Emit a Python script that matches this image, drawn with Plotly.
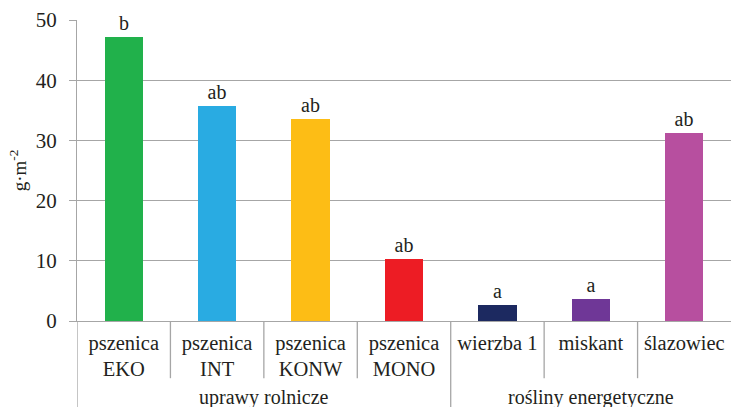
import plotly.graph_objects as go

categories = ["pszenica<br>EKO", "pszenica<br>INT", "pszenica<br>KONW", "pszenica<br>MONO",
              "wierzba 1", "miskant", "ślazowiec"]
values = [47.2, 35.7, 33.6, 10.3, 2.7, 3.7, 31.2]
letters = ["b", "ab", "ab", "ab", "a", "a", "ab"]
colors = ["#21b14b", "#29abe2", "#fdbd15", "#ed1c24", "#1c2960", "#6f3797", "#b74f9f"]
groups = ["uprawy rolnicze", "rośliny energetyczne"]
group_spans = [(0, 3), (4, 6)]
y_ticks = [0, 10, 20, 30, 40, 50]

FONT = "Liberation Serif"
TXT = "#231f20"
GRID = "#a6a6a6"

xi = list(range(len(categories)))

fig = go.Figure()
fig.add_trace(go.Bar(
    x=xi, y=values, width=0.41,
    marker=dict(color=colors, line=dict(width=0)),
    text=letters, textposition="outside", cliponaxis=False,
    textfont=dict(family=FONT, size=20, color=TXT),
))

shapes = []
for i in range(len(categories)):
    b = i - 0.5
    is_group_edge = any(abs(b - (s - 0.5)) < 1e-9 for s, _ in group_spans)
    shapes.append(dict(type="line", xref="x", yref="paper", x0=b, x1=b,
                       y0=0, y1=(-0.30 if is_group_edge else -0.19),
                       line=dict(color=GRID, width=1.3)))

annotations = []
for g, (s, e) in zip(groups, group_spans):
    annotations.append(dict(x=(s + e) / 2, y=-0.255, xref="x", yref="paper",
                            text=g, showarrow=False, yanchor="middle",
                            font=dict(family=FONT, size=20, color=TXT)))

fig.update_layout(
    width=732, height=407,
    margin=dict(l=77, r=1, t=20, b=86, autoexpand=False),
    paper_bgcolor="white", plot_bgcolor="white",
    showlegend=False, bargap=0,
    shapes=shapes, annotations=annotations,
    xaxis=dict(range=[-0.5, 6.5], tickmode="array", tickvals=xi, ticktext=categories,
               showgrid=False, zeroline=False, ticks="", showline=True, automargin=False,
               linecolor=GRID, linewidth=1.3, ticklabelstandoff=3,
               tickfont=dict(family=FONT, size=20.5, color=TXT)),
    yaxis=dict(range=[0, 50], tickvals=y_ticks, showgrid=True, gridcolor=GRID, gridwidth=1.3,
               zeroline=False, ticks="outside", ticklen=7, tickcolor=GRID, tickwidth=1.3,
               ticklabelstandoff=8,
               showline=True, linecolor=GRID, linewidth=1.3, automargin=False,
               tickfont=dict(family=FONT, size=21, color=TXT),
               title=dict(text="g·m<sup>-2</sup>", font=dict(family=FONT, size=19, color=TXT),
                          standoff=4)),
)

fig.write_html("out.html", config={"displayModeBar": False},
               post_script="document.body.style.margin='0';")
